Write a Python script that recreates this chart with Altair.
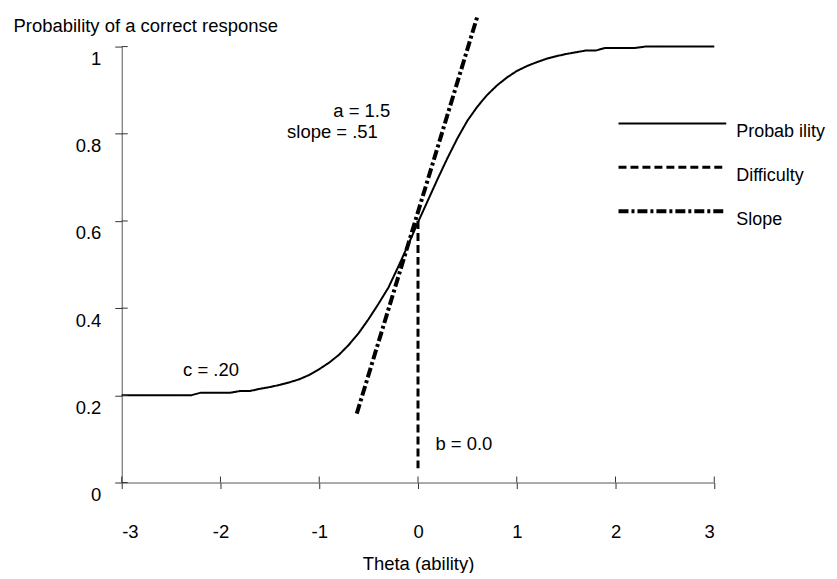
import altair as alt
import pandas as pd

# ---- data ----
theta = [-3.0, -2.9, -2.8, -2.7, -2.6, -2.5, -2.4, -2.3, -2.2, -2.1,
         -2.0, -1.9, -1.8, -1.7, -1.6, -1.5, -1.4, -1.3, -1.2, -1.1,
         -1.0, -0.9, -0.8, -0.7, -0.6, -0.5, -0.4, -0.3, -0.2, -0.1,
         0.0, 0.1, 0.2, 0.3, 0.4, 0.5, 0.6, 0.7, 0.8, 0.9,
         1.0, 1.1, 1.2, 1.3, 1.4, 1.5, 1.6, 1.7, 1.8, 1.9,
         2.0, 2.1, 2.2, 2.3, 2.4, 2.5, 2.6, 2.7, 2.8, 2.9, 3.0]
prob = [0.200, 0.200, 0.200, 0.200, 0.200, 0.200, 0.200, 0.200, 0.206, 0.206,
        0.206, 0.206, 0.210, 0.210, 0.215, 0.219, 0.224, 0.230, 0.237, 0.247,
        0.260, 0.275, 0.293, 0.316, 0.343, 0.375, 0.410, 0.447, 0.495, 0.545,
        0.597, 0.647, 0.697, 0.745, 0.790, 0.830, 0.862, 0.889, 0.911, 0.929,
        0.944, 0.955, 0.964, 0.972, 0.978, 0.983, 0.987, 0.991, 0.991, 0.997,
        0.997, 0.997, 0.997, 1.000, 1.000, 1.000, 1.000, 1.000, 1.000, 1.000, 1.000]

difficulty_theta = [0.0, 0.0]
difficulty_prob = [0.60, 0.03]

slope_theta = [-0.62, 0.606]
slope_prob = [0.158, 1.073]

series_names = ["Probab ility", "Difficulty", "Slope"]

x_ticks = [-3, -2, -1, 0, 1, 2, 3]
y_ticks = [0, 0.2, 0.4, 0.6, 0.8, 1.0]

ann_text = ["c = .20", "a = 1.5", "slope = .51", "b = 0.0"]
ann_theta = [-2.096, -0.569, -0.866, 0.465]
ann_prob = [0.259, 0.853, 0.804, 0.089]

# ---- tables ----
frames = []
for name, xs, ys in [(series_names[0], theta, prob),
                     (series_names[1], difficulty_theta, difficulty_prob),
                     (series_names[2], slope_theta, slope_prob)]:
    frames.append(pd.DataFrame({"series": name, "theta": xs, "p": ys}))
df = pd.concat(frames, ignore_index=True)
df["order"] = range(len(df))

ann = pd.DataFrame({"text": ann_text, "theta": ann_theta, "p": ann_prob})
xt = pd.DataFrame({"theta": x_ticks})
yt = pd.DataFrame({"p": y_ticks})

FONT = "Liberation Sans"
FS = 18.5
W, H = 594, 437

xscale = alt.Scale(domain=[-3, 3], nice=False)
yscale = alt.Scale(domain=[0, 1], nice=False)

legend = alt.Legend(
    title=None, orient="none", legendX=496, legendY=67,
    symbolType="stroke", symbolSize=11664, symbolStrokeColor="black",
    labelFont=FONT, labelFontSize=18, labelColor="black",
    labelBaseline="top", labelOffset=8, clipHeight=20, rowPadding=16, padding=0,
)

lines = alt.Chart(df).mark_line(color="black").encode(
    x=alt.X("theta:Q", scale=xscale,
            axis=alt.Axis(values=x_ticks, labelExpr="'' + datum.value",
                          title="Theta (ability)", grid=False,
                          tickSize=6, labelPadding=34,
                          titleY=81, titleBaseline="middle")),
    y=alt.Y("p:Q", scale=yscale,
            axis=alt.Axis(values=y_ticks, format="~g",
                          title="Probability of a correct response",
                          titleAngle=0, titleAlign="left", titleBaseline="middle",
                          titleX=-109, titleY=-21, grid=False,
                          tickSize=7, labelPadding=14,
                          labelBaseline="middle", labelOffset=12)),
    detail="series:N",
    order="order:Q",
    strokeDash=alt.StrokeDash("series:N",
                              scale=alt.Scale(domain=series_names,
                                              range=[[1, 0], [8, 4], [10, 3, 3, 3]]),
                              legend=legend),
    strokeWidth=alt.StrokeWidth("series:N",
                                scale=alt.Scale(domain=series_names, range=[2, 4, 4]),
                                legend=legend),
)

texts = alt.Chart(ann).mark_text(font=FONT, fontSize=FS, color="black",
                                 align="center", baseline="middle").encode(
    x=alt.X("theta:Q", scale=xscale),
    y=alt.Y("p:Q", scale=yscale),
    text="text:N",
)

xtick_in = alt.Chart(xt).mark_rule(color="#333", strokeWidth=1).encode(
    x=alt.X("theta:Q", scale=xscale),
    y=alt.value(H),
    y2=alt.value(H - 6),
)
ytick_in = alt.Chart(yt).mark_rule(color="#333", strokeWidth=1).encode(
    y=alt.Y("p:Q", scale=yscale),
    x=alt.value(0),
    x2=alt.value(6),
)

chart = alt.layer(lines, texts, xtick_in, ytick_in).properties(
    width=W, height=H,
    autosize=alt.AutoSizeParams(type="none"),
    padding={"left": 114, "top": 38, "right": 115, "bottom": 90},
).configure(font=FONT).configure_view(stroke=None).configure_axis(
    labelFont=FONT, titleFont=FONT, labelFontSize=FS, titleFontSize=FS,
    labelColor="black", titleColor="black", titleFontWeight="normal",
    domainColor="#555", tickColor="#333",
)

chart.save("out.html", embed_options={"renderer": "svg", "actions": False})
